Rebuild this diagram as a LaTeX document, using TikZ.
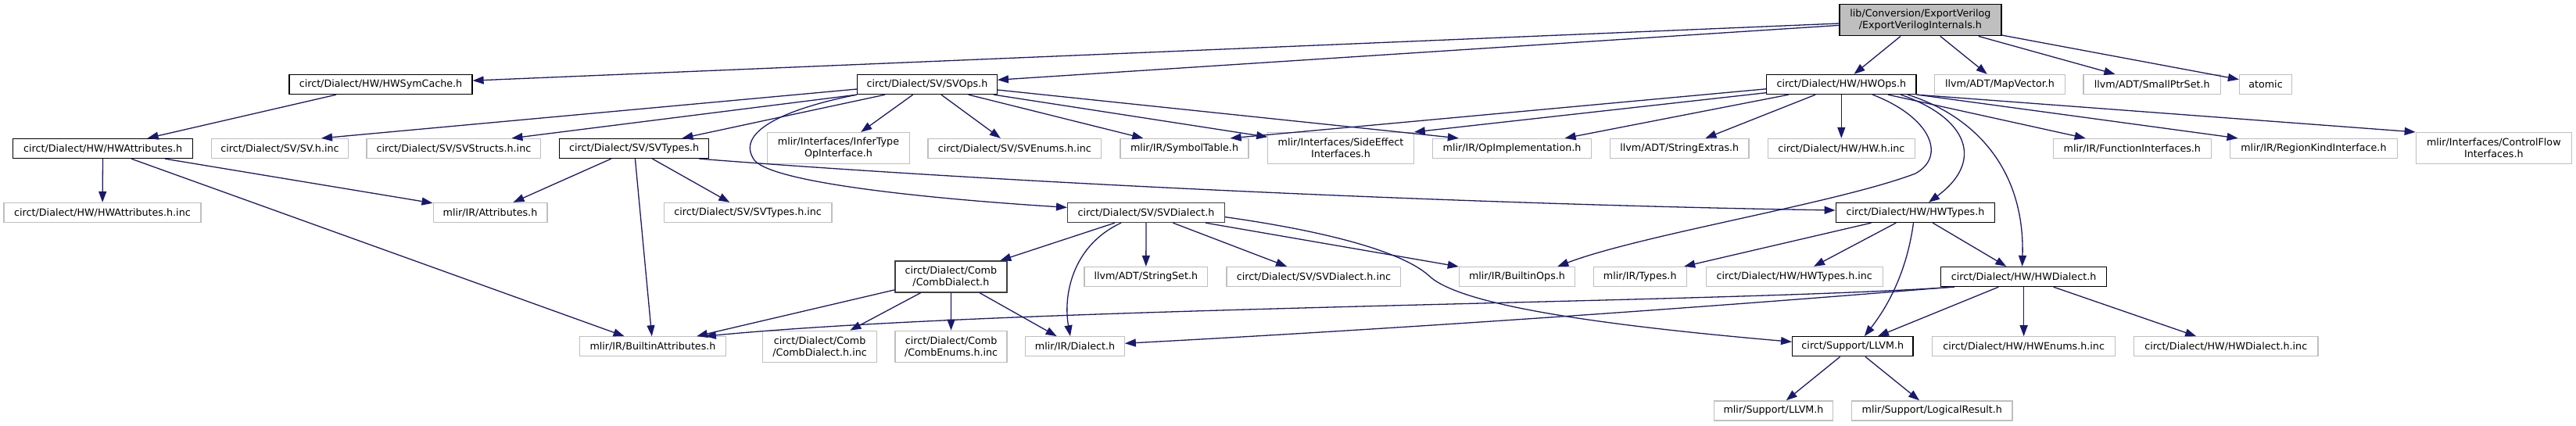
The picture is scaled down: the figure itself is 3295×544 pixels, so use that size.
\documentclass[tikz,border=0pt]{standalone}
\usepackage{fontspec}
\setmainfont{DejaVu Sans}
\usetikzlibrary{arrows.meta,calc}
\definecolor{edgecol}{HTML}{191970}
\definecolor{gbox}{HTML}{BFBFBF}
\definecolor{gdark}{HTML}{404040}
\tikzset{
  nbase/.style={inner sep=0pt, align=center, fill=white, line width=1.3pt,
    font=\fontsize{12.7pt}{15pt}\selectfont, minimum height=25pt},
  doc/.style={nbase, draw=black},
  dk/.style={nbase, draw=gdark},
  ext/.style={nbase, draw=gbox},
  root/.style={nbase, draw=black, fill=gbox},
  two/.style={minimum height=40pt},
  dep/.style={draw=edgecol, line width=1.3pt, -{Triangle[length=14pt,width=10pt]}},
}
\begin{document}
\begin{tikzpicture}[x=1pt,y=-1pt]
\useasboundingbox (0,0) rectangle (3295,544);
% row 0
\node[root,two,minimum width=207pt] (main) at (2456.4,25.7) {lib/Conversion/ExportVerilog\\/ExportVerilogInternals.h};
% row 1
\node[doc,minimum width=234pt] (hwsym) at (487,108) {circt/Dialect/HW/HWSymCache.h};
\node[doc,minimum width=178.6pt] (svops) at (1186,108) {circt/Dialect/SV/SVOps.h};
\node[doc,minimum width=191.4pt] (hwops) at (2355.3,108) {circt/Dialect/HW/HWOps.h};
\node[ext,minimum width=167pt] (mapvec) at (2558,108) {llvm/ADT/MapVector.h};
\node[ext,minimum width=175.4pt] (smallptr) at (2752.7,108) {llvm/ADT/SmallPtrSet.h};
\node[ext,minimum width=67pt] (atomic) at (2898,108) {atomic};
% row 2
\node[doc,minimum width=229.6pt] (hwattr) at (131.6,190) {circt/Dialect/HW/HWAttributes.h};
\node[ext,minimum width=174.7pt] (svhinc) at (358,190) {circt/Dialect/SV/SV.h.inc};
\node[ext,minimum width=222.8pt] (svstructs) at (580.4,190) {circt/Dialect/SV/SVStructs.h.inc};
\node[doc,minimum width=191pt] (svtypes) at (811.2,190) {circt/Dialect/SV/SVTypes.h};
\node[ext,two,minimum width=181.4pt] (infer) at (1072.5,189.6) {mlir/Interfaces/InferType\\OpInterface.h};
\node[ext,minimum width=221.6pt] (svenums) at (1297.8,190) {circt/Dialect/SV/SVEnums.h.inc};
\node[ext,minimum width=164pt] (symtab) at (1515,190) {mlir/IR/SymbolTable.h};
\node[ext,two,minimum width=186.4pt] (sideeff) at (1715,189.6) {mlir/Interfaces/SideEffect\\Interfaces.h};
\node[ext,minimum width=203pt] (opimpl) at (1934,190) {mlir/IR/OpImplementation.h};
\node[ext,minimum width=177.4pt] (strext) at (2148.3,190) {llvm/ADT/StringExtras.h};
\node[ext,minimum width=188pt] (hwhinc) at (2355.3,190) {circt/Dialect/HW/HW.h.inc};
\node[ext,minimum width=202pt] (funcif) at (2727.3,190) {mlir/IR/FunctionInterfaces.h};
\node[ext,minimum width=213.6pt] (regionkind) at (2959.4,190) {mlir/IR/RegionKindInterface.h};
\node[ext,two,minimum width=199pt] (controlflow) at (3189.8,189.6) {mlir/Interfaces/ControlFlow\\Interfaces.h};
% row 3
\node[ext,minimum width=252pt] (hwattrinc) at (131,272) {circt/Dialect/HW/HWAttributes.h.inc};
\node[ext,minimum width=145.7pt] (attrs) at (627,272) {mlir/IR/Attributes.h};
\node[ext,minimum width=214.7pt] (svtypesinc) at (956.6,272) {circt/Dialect/SV/SVTypes.h.inc};
\node[dk,minimum width=200.7pt] (svdialect) at (1466,272) {circt/Dialect/SV/SVDialect.h};
\node[doc,minimum width=203.6pt] (hwtypes) at (2450,272) {circt/Dialect/HW/HWTypes.h};
% row 4
\node[dk,two,minimum width=143pt] (combdialect) at (1216.4,354) {circt/Dialect/Comb\\/CombDialect.h};
\node[ext,minimum width=157.6pt] (stringset) at (1465.8,354) {llvm/ADT/StringSet.h};
\node[ext,minimum width=222.8pt] (svdialectinc) at (1680.4,354) {circt/Dialect/SV/SVDialect.h.inc};
\node[ext,minimum width=148.2pt] (builtinops) at (1940.5,354) {mlir/IR/BuiltinOps.h};
\node[ext,minimum width=119pt] (types) at (2097.7,354) {mlir/IR/Types.h};
\node[ext,minimum width=226pt] (hwtypesinc) at (2295.2,354) {circt/Dialect/HW/HWTypes.h.inc};
\node[doc,minimum width=212pt] (hwdialect) at (2588.6,354) {circt/Dialect/HW/HWDialect.h};
% row 5
\node[ext,minimum width=186.4pt] (builtinattr) at (835,443.3) {mlir/IR/BuiltinAttributes.h};
\node[ext,two,minimum width=145.7pt] (combdialectinc) at (1048.6,443.3) {circt/Dialect/Comb\\/CombDialect.h.inc};
\node[ext,two,minimum width=143pt] (combenums) at (1216.6,443.3) {circt/Dialect/Comb\\/CombEnums.h.inc};
\node[ext,minimum width=126.4pt] (dialect) at (1375,443.3) {mlir/IR/Dialect.h};
\node[doc,minimum width=154.3pt] (supllvm) at (2369.8,443.3) {circt/Support/LLVM.h};
\node[ext,minimum width=233.6pt] (hwenums) at (2588.6,443.3) {circt/Dialect/HW/HWEnums.h.inc};
\node[ext,minimum width=235.3pt] (hwdialectinc) at (2847.2,443.3) {circt/Dialect/HW/HWDialect.h.inc};
% row 6
\node[ext,minimum width=151.6pt] (mlirllvm) at (2268.5,525.4) {mlir/Support/LLVM.h};
\node[ext,minimum width=205.3pt] (logical) at (2471.3,525.4) {mlir/Support/LogicalResult.h};

% edges from main
\draw[dep] (main) -- (hwsym);
\draw[dep] (main) -- (svops);
\draw[dep] (main) -- (hwops);
\draw[dep] (main) -- (mapvec);
\draw[dep] (main) -- (smallptr);
\draw[dep] (main) -- (atomic);
% HWSymCache / HWAttributes
\draw[dep] (hwsym) -- (hwattr);
\draw[dep] (hwattr) -- (hwattrinc);
\draw[dep] (hwattr) -- (attrs);
\draw[dep] (hwattr) -- (builtinattr);
% SVOps
\draw[dep] ($(svops.west)+(0,6)$) -- ($(svhinc.north east)+(-35,0)$);
\draw[dep] (svops.south west) -- ($(svstructs.north east)+(-38,0)$);
\draw[dep] ($(svops.south west)+(36,0)$) -- (svtypes);
\draw[dep] (svops) -- (infer);
\draw[dep] (svops) -- (svenums);
\draw[dep] (svops) -- (symtab);
\draw[dep] (svops) -- (sideeff);
\draw[dep] ($(svops.east)+(0,7)$) -- ($(opimpl.north west)+(34,0)$);
\draw[dep] (svops.south west) .. controls (1000,140) and (940,170) .. (965,205)
  .. controls (990,235) and (1200,255) .. ($(svdialect.west)+(0,-6.6)$);
% SVTypes
\draw[dep] (svtypes) -- (attrs);
\draw[dep] (svtypes) -- (builtinattr);
\draw[dep] (svtypes) -- (svtypesinc);
\draw[dep] ($(svtypes.south east)+(-13,0)$) .. controls (1300,235) and (1900,262) .. ($(hwtypes.west)+(0,-3)$);
% SVDialect
\draw[dep] (svdialect) -- (combdialect);
\draw[dep] (svdialect) -- (stringset);
\draw[dep] (svdialect) -- (svdialectinc);
\draw[dep] (svdialect) -- (builtinops);
\draw[dep] ($(svdialect.south)+(-32,0)$) .. controls (1370,315) and (1360,380) .. ($(dialect.north)+(-6,0)$);
\draw[dep] ($(svdialect.east)+(0,5.6)$) .. controls (1690,295) and (1790,320) .. (1827,352)
  .. controls (1860,385) and (2000,412) .. ($(supllvm.west)+(0,-6)$);
% CombDialect
\draw[dep] (combdialect) -- (builtinattr);
\draw[dep] (combdialect) -- (combdialectinc);
\draw[dep] (combdialect) -- (combenums);
\draw[dep] (combdialect) -- (dialect);
% HWOps
\draw[dep] ($(hwops.west)+(0,5.8)$) -- ($(symtab.north east)+(-24,0)$);
\draw[dep] ($(hwops.west)+(0,10.7)$) -- (sideeff.north east);
\draw[dep] (hwops) -- (opimpl);
\draw[dep] (hwops) -- (strext);
\draw[dep] (hwops) -- (hwhinc);
\draw[dep] (hwops) -- (funcif);
\draw[dep] (hwops) -- (regionkind);
\draw[dep] (hwops.south east) -- (controlflow.north west);
\draw[dep] ($(hwops.south)+(40,0)$) .. controls (2470,150) and (2490,200) .. (2450,222)
  .. controls (2350,260) and (2100,300) .. ($(builtinops.north east)+(-23,0)$);
\draw[dep] ($(hwops.south)+(76,0)$) .. controls (2515,150) and (2540,205) .. ($(hwtypes.north)+(17,0)$);
\draw[dep] ($(hwops.south)+(85,0)$) .. controls (2530,150) and (2590,220) .. ($(hwdialect.north)+(-2,0)$);
% HWTypes
\draw[dep] (hwtypes) -- (types);
\draw[dep] (hwtypes) -- (hwtypesinc);
\draw[dep] (hwtypes) -- (hwdialect);
\draw[dep] ($(hwtypes.south)+(-2.5,0)$) .. controls (2440,340) and (2420,385) .. ($(supllvm.north)+(15,0)$);
% HWDialect
\draw[dep] ($(hwdialect.south west)+(18,0)$) .. controls (2200,388) and (1300,392) .. ($(builtinattr.north east)+(-27,0)$);
\draw[dep] ($(hwdialect.south west)+(14,0)$) .. controls (2200,392) and (1800,420) .. ($(dialect.east)+(0,-4)$);
\draw[dep] (hwdialect) -- (supllvm);
\draw[dep] (hwdialect) -- (hwenums);
\draw[dep] (hwdialect) -- (hwdialectinc);
% Support/LLVM
\draw[dep] (supllvm) -- (mlirllvm);
\draw[dep] (supllvm) -- (logical);
\end{tikzpicture}
\end{document}
